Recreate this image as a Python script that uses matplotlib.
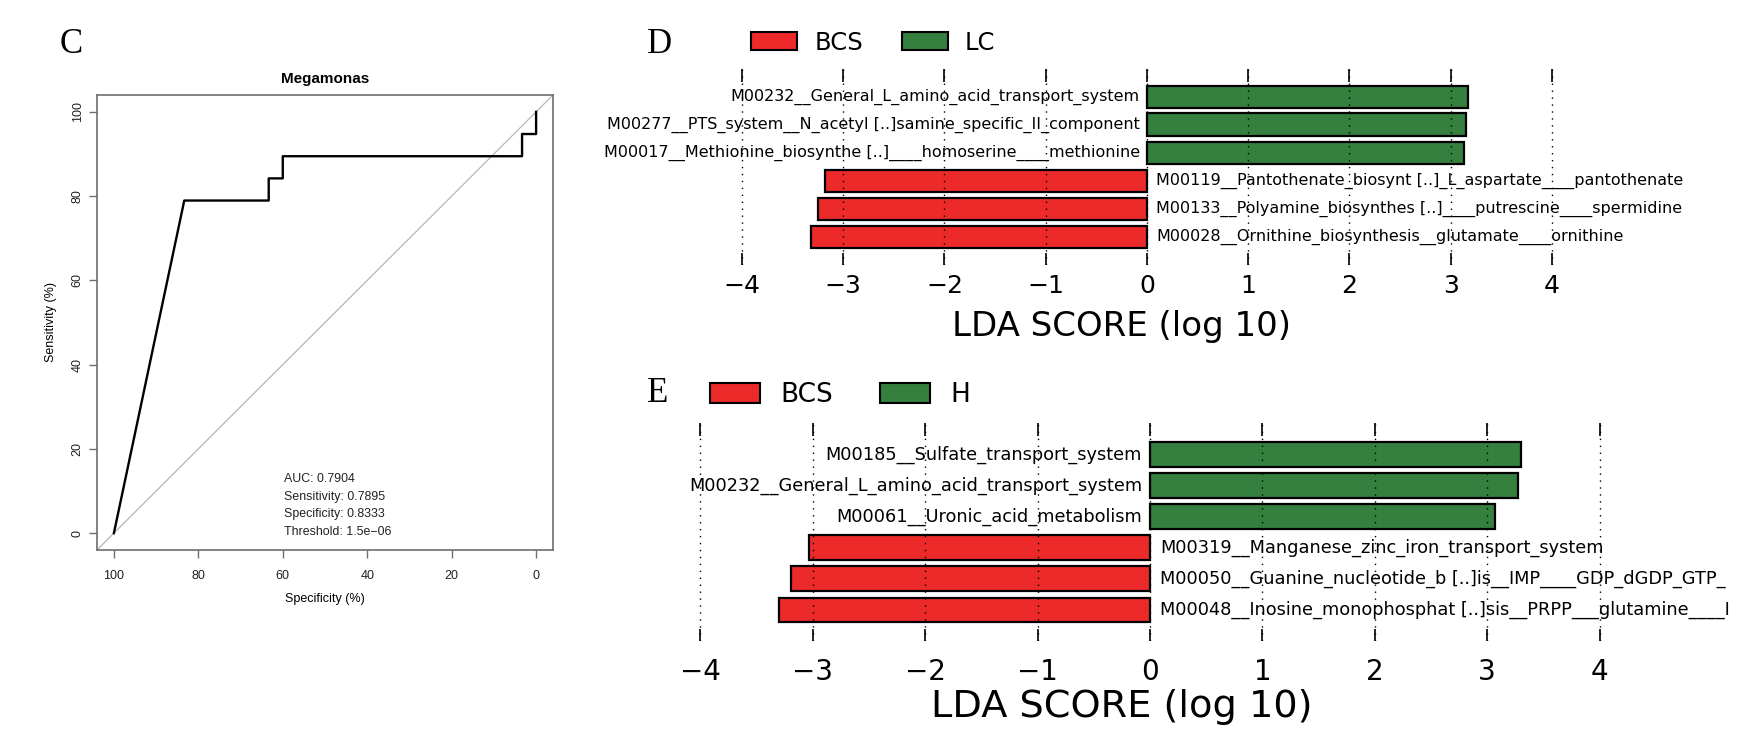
import matplotlib
matplotlib.use('agg')
import matplotlib.pyplot as plt
from matplotlib.patches import Patch

# panel C: ROC of Megamonas
roc_spec = [100, 83.33, 63.33, 63.33, 60, 60, 3.33, 3.33, 0, 0]
roc_sens = [0, 78.95, 78.95, 84.21, 84.21, 89.47, 89.47, 94.74, 94.74, 100]
roc_ticks = [100, 80, 60, 40, 20, 0]
roc_notes = ['AUC: 0.7904', 'Sensitivity: 0.7895', 'Specificity: 0.8333', 'Threshold: 1.5e\u221206']

# panel D: BCS vs LC
d_groups = ['BCS', 'LC']
d_labels = ['M00232__General_L_amino_acid_transport_system',
            'M00277__PTS_system__N_acetyl [..]samine_specific_II_component',
            'M00017__Methionine_biosynthe [..]____homoserine____methionine',
            'M00119__Pantothenate_biosynt [..]_L_aspartate____pantothenate',
            'M00133__Polyamine_biosynthes [..]____putrescine____spermidine',
            'M00028__Ornithine_biosynthesis__glutamate____ornithine']
d_scores = [3.17, 3.15, 3.13, -3.18, -3.25, -3.32]

# panel E: BCS vs H (names run off the right edge of the source figure)
e_groups = ['BCS', 'H']
e_labels = ['M00185__Sulfate_transport_system',
            'M00232__General_L_amino_acid_transport_system',
            'M00061__Uronic_acid_metabolism',
            'M00319__Manganese_zinc_iron_transport_system',
            'M00050__Guanine_nucleotide_b [..]is__IMP____GDP_dGDP_GTP_',
            'M00048__Inosine_monophosphat [..]sis__PRPP___glutamine____I']
e_scores = [3.30, 3.27, 3.07, -3.03, -3.19, -3.30]
lda_ticks = [-4, -3, -2, -1, 0, 1, 2, 3, 4]

RED = '#ec2a2a'
GREEN = '#35803f'

W, H = 1749, 730
fig = plt.figure(figsize=(W / 100, H / 100), dpi=100)


def frac(x0, y0, x1, y1):
    # pixel box -> figure fraction
    return [x0 / W, 1 - y1 / H, (x1 - x0) / W, (y1 - y0) / H]


# ---- C ----
ax = fig.add_axes(frac(97, 95, 553, 550))
ax.plot([104, -4], [-4, 104], color='#b5b5b5', lw=0.9)
ax.plot(roc_spec, roc_sens, color='black', lw=1.7)
ax.set_xlim(104, -4)
ax.set_ylim(-4, 104)
ax.set_xticks(roc_ticks)
ax.set_yticks(roc_ticks)
for s in ax.spines.values():
    s.set_color('#6e6e6e')
    s.set_linewidth(1.2)
ax.tick_params(colors='#6e6e6e', labelcolor='#222222', length=6, width=1.0,
               labelsize=9)
ax.tick_params(axis='x', pad=8.5)
plt.setp(ax.get_yticklabels(), rotation=90, va='center')
ax.set_title('Megamonas', fontsize=11, fontweight='bold', pad=9,
             family='Liberation Sans')
ax.set_xlabel('Specificity (%)', fontsize=9, labelpad=7.5, family='Liberation Sans')
ax.set_ylabel('Sensitivity (%)', fontsize=9, labelpad=11, family='Liberation Sans')
for lab in ax.get_xticklabels() + ax.get_yticklabels():
    lab.set_family('Liberation Sans')
for i, note in enumerate(roc_notes):
    ax.text(59.7, 12.8 - 4.15 * i, note, fontsize=8.9, va='center', ha='left',
            family='Liberation Sans', color='#222222')


def lefse(box, labels, scores, fs, tick_fs, lab_fs, pad, labpad):
    ax = fig.add_axes(frac(*box))
    pos = list(range(len(scores)))[::-1]
    cols = [GREEN if v > 0 else RED for v in scores]
    ax.barh(pos, scores, height=0.8, color=cols, edgecolor='black', lw=1.6,
            zorder=1)
    for p, v, name in zip(pos, scores, labels):
        if v > 0:
            ax.text(-0.07, p, name, ha='right', va='center', fontsize=fs, zorder=3)
        else:
            ax.text(0.09, p, name, ha='left', va='center', fontsize=fs, zorder=3)
    ax.set_xlim(-4.6, 4.1)
    ax.set_ylim(-1, len(scores))
    ax.set_xticks(lda_ticks)
    ax.set_xticklabels([str(t).replace('-', '\u2212') for t in lda_ticks])
    ax.set_yticks([])
    for s in ax.spines.values():
        s.set_visible(False)
    ax.xaxis.grid(True, linestyle=(0, (1, 4)), color='black', lw=1.0, zorder=2)
    ax.set_axisbelow(False)
    ax.tick_params(axis='x', direction='in', top=True, bottom=True, length=9,
                   width=1.2, labelsize=tick_fs, pad=pad)
    ax.set_xlabel('LDA SCORE (log 10)', fontsize=lab_fs, labelpad=labpad)
    return ax


lefse((681.25, 68.7, 1562, 264.7), d_labels, d_scores, 11.5, 18, 24.5, 6.4, 8.7)
lefse((632.96, 423.4, 1610.8, 641.1), e_labels, e_scores, 12.8, 20, 27.5, 12.5, 2)

for letter, x, y in [('C', 60, 53), ('D', 647, 53), ('E', 647, 402)]:
    fig.text(x / W, 1 - y / H, letter, family='Liberation Serif', fontsize=25,
             va='baseline', ha='left')

for groups, x0, yc, fs, hl, hh, tp, cs in [
        (d_groups, 751, 42.7, 17.5, 1.9, 0.78, 0.7, 1.6),
        (e_groups, 710, 395, 19, 1.9, 0.78, 0.75, 1.8)]:
    handles = [Patch(facecolor=RED, edgecolor='black', lw=1.5),
               Patch(facecolor=GREEN, edgecolor='black', lw=1.5)]
    fig.legend(handles, groups, loc='center left',
               bbox_to_anchor=(x0 / W, 1 - yc / H), ncol=2, frameon=False,
               fontsize=fs, handlelength=hl, handleheight=hh,
               handletextpad=tp, columnspacing=cs, borderpad=0,
               borderaxespad=0)

fig.savefig('out.png', dpi=100)
